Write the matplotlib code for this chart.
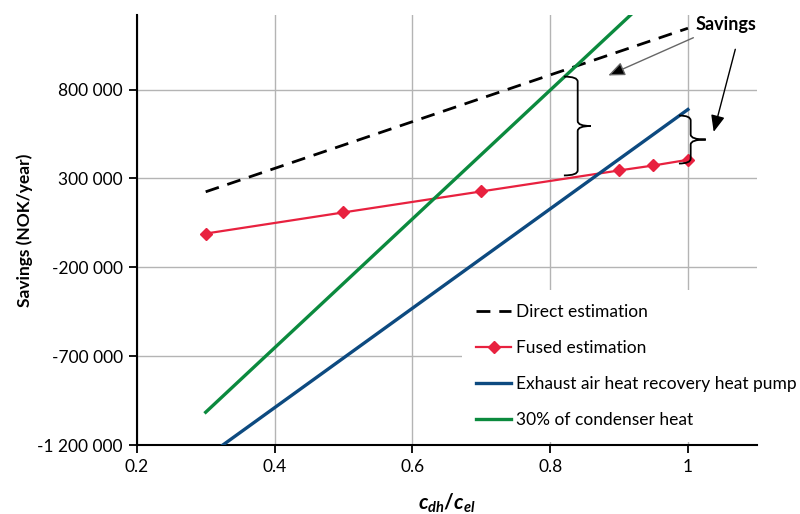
import matplotlib.pyplot as plt
import numpy as np
from matplotlib.path import Path
from matplotlib.patches import PathPatch

plt.rcParams['font.family'] = ['Lato', 'DejaVu Sans']
plt.rcParams['mathtext.fontset'] = 'custom'
plt.rcParams['mathtext.it'] = 'Lato:italic:bold'
plt.rcParams['mathtext.rm'] = 'Lato:bold'

# Данные
direct_x = [0.3, 1.0]
direct_y = [225000, 1145000]

fused_x = [0.3, 0.5, 0.7, 0.9, 0.95, 1.0]
fused_y = [-10000, 109000, 227000, 345000, 373000, 405000]

pump_x = [0.3, 1.0]
pump_y = [-1269000, 688000]

cond_x = [0.3, 1.0]
cond_y = [-1015000, 1521000]

x_ticks = [0.2, 0.4, 0.6, 0.8, 1.0]
x_tick_labels = ['0.2', '0.4', '0.6', '0.8', '1']
y_ticks = [-1200000, -700000, -200000, 300000, 800000]
y_tick_labels = ['-1 200 000', '-700 000', '-200 000', '300 000', '800 000']

# Фигурные скобки: x, верх, низ, ширина влево, ширина вправо
braces = [(0.840, 873000, 317000, 0.020, 0.019),
          (1.004, 654000, 384000, 0.017, 0.022)]


def draw_brace(ax, x, top, bot, w_left, w_right):
    r = 28000
    mid = (top + bot) / 2
    verts = [(x - w_left, top), (x, top), (x, top - r),
             (x, mid + r),
             (x, mid), (x + w_right, mid),
             (x, mid), (x, mid - r),
             (x, bot + r),
             (x, bot), (x - w_left, bot)]
    codes = [Path.MOVETO, Path.CURVE3, Path.CURVE3,
             Path.LINETO,
             Path.CURVE3, Path.CURVE3,
             Path.CURVE3, Path.CURVE3,
             Path.LINETO,
             Path.CURVE3, Path.CURVE3]
    ax.add_patch(PathPatch(Path(verts, codes), fill=False, lw=1.3,
                           edgecolor='black', zorder=5, clip_on=False))


fig = plt.figure(figsize=(8, 5.14), dpi=100)
ax = fig.add_axes([0.171, 0.134, 0.775, 0.837])

ax.plot(direct_x, direct_y, color='black', lw=2.0, linestyle=(0, (5, 3.2)),
        label='Direct estimation', zorder=3)
ax.plot(fused_x, fused_y, color='#e8213f', lw=1.6, marker='D', markersize=6,
        label='Fused estimation', zorder=3)
ax.plot(pump_x, pump_y, color='#0d4a80', lw=2.4,
        label='Exhaust air heat recovery heat pump', zorder=3)
ax.plot(cond_x, cond_y, color='#0b8a3e', lw=2.4,
        label='30% of condenser heat', zorder=3)

ax.set_xlim(0.2, 1.1)
ax.set_ylim(-1200000, 1220000)
ax.set_xticks(x_ticks)
ax.set_xticklabels(x_tick_labels)
ax.set_yticks(y_ticks)
ax.set_yticklabels(y_tick_labels)
ax.set_xticks(np.arange(0.24, 1.1, 0.04), minor=True)
ax.tick_params(axis='x', which='minor', length=0)

ax.grid(True, which='major', color='#b4b4b4', lw=1.0, zorder=0)
ax.grid(True, which='minor', axis='x', color='white', lw=1.0, zorder=0.5)
ax.set_axisbelow(True)

for side in ['top', 'right']:
    ax.spines[side].set_visible(False)
for side in ['left', 'bottom']:
    ax.spines[side].set_linewidth(1.5)
ax.tick_params(axis='both', which='major', labelsize=12.5, length=6,
               width=1.3, direction='out', colors='black', pad=4)

ax.set_ylabel('Savings (NOK/year)', fontsize=12.5, fontweight='bold', labelpad=3)
ax.set_xlabel(r'$c_{dh}/c_{el}$', fontsize=15, labelpad=12)

for b in braces:
    draw_brace(ax, *b)

ax.text(1.055, 1165000, 'Savings', fontsize=13, fontweight='bold',
        ha='center', va='center')
ax.annotate('', xy=(0.8807, 873000), xytext=(1.0116, 1098000),
            arrowprops=dict(arrowstyle='-|>,head_length=1.0,head_width=0.42',
                            color='#666666', fc='black', lw=1.0),
            annotation_clip=False)
ax.annotate('', xy=(1.0364, 547000), xytext=(1.0698, 1041600),
            arrowprops=dict(arrowstyle='-|>,head_length=1.0,head_width=0.42',
                            color='black', lw=1.0),
            annotation_clip=False)

leg = ax.legend(loc='upper left', bbox_to_anchor=(0.578, 0.436),
                bbox_transform=fig.transFigure, fontsize=12.5,
                frameon=True, facecolor='white', edgecolor='none', framealpha=1,
                fancybox=False, handlelength=2.0, handletextpad=0.3,
                labelspacing=1.15, borderaxespad=0, borderpad=0.8)
leg.set_zorder(4)

plt.savefig('out.png', dpi=100)
